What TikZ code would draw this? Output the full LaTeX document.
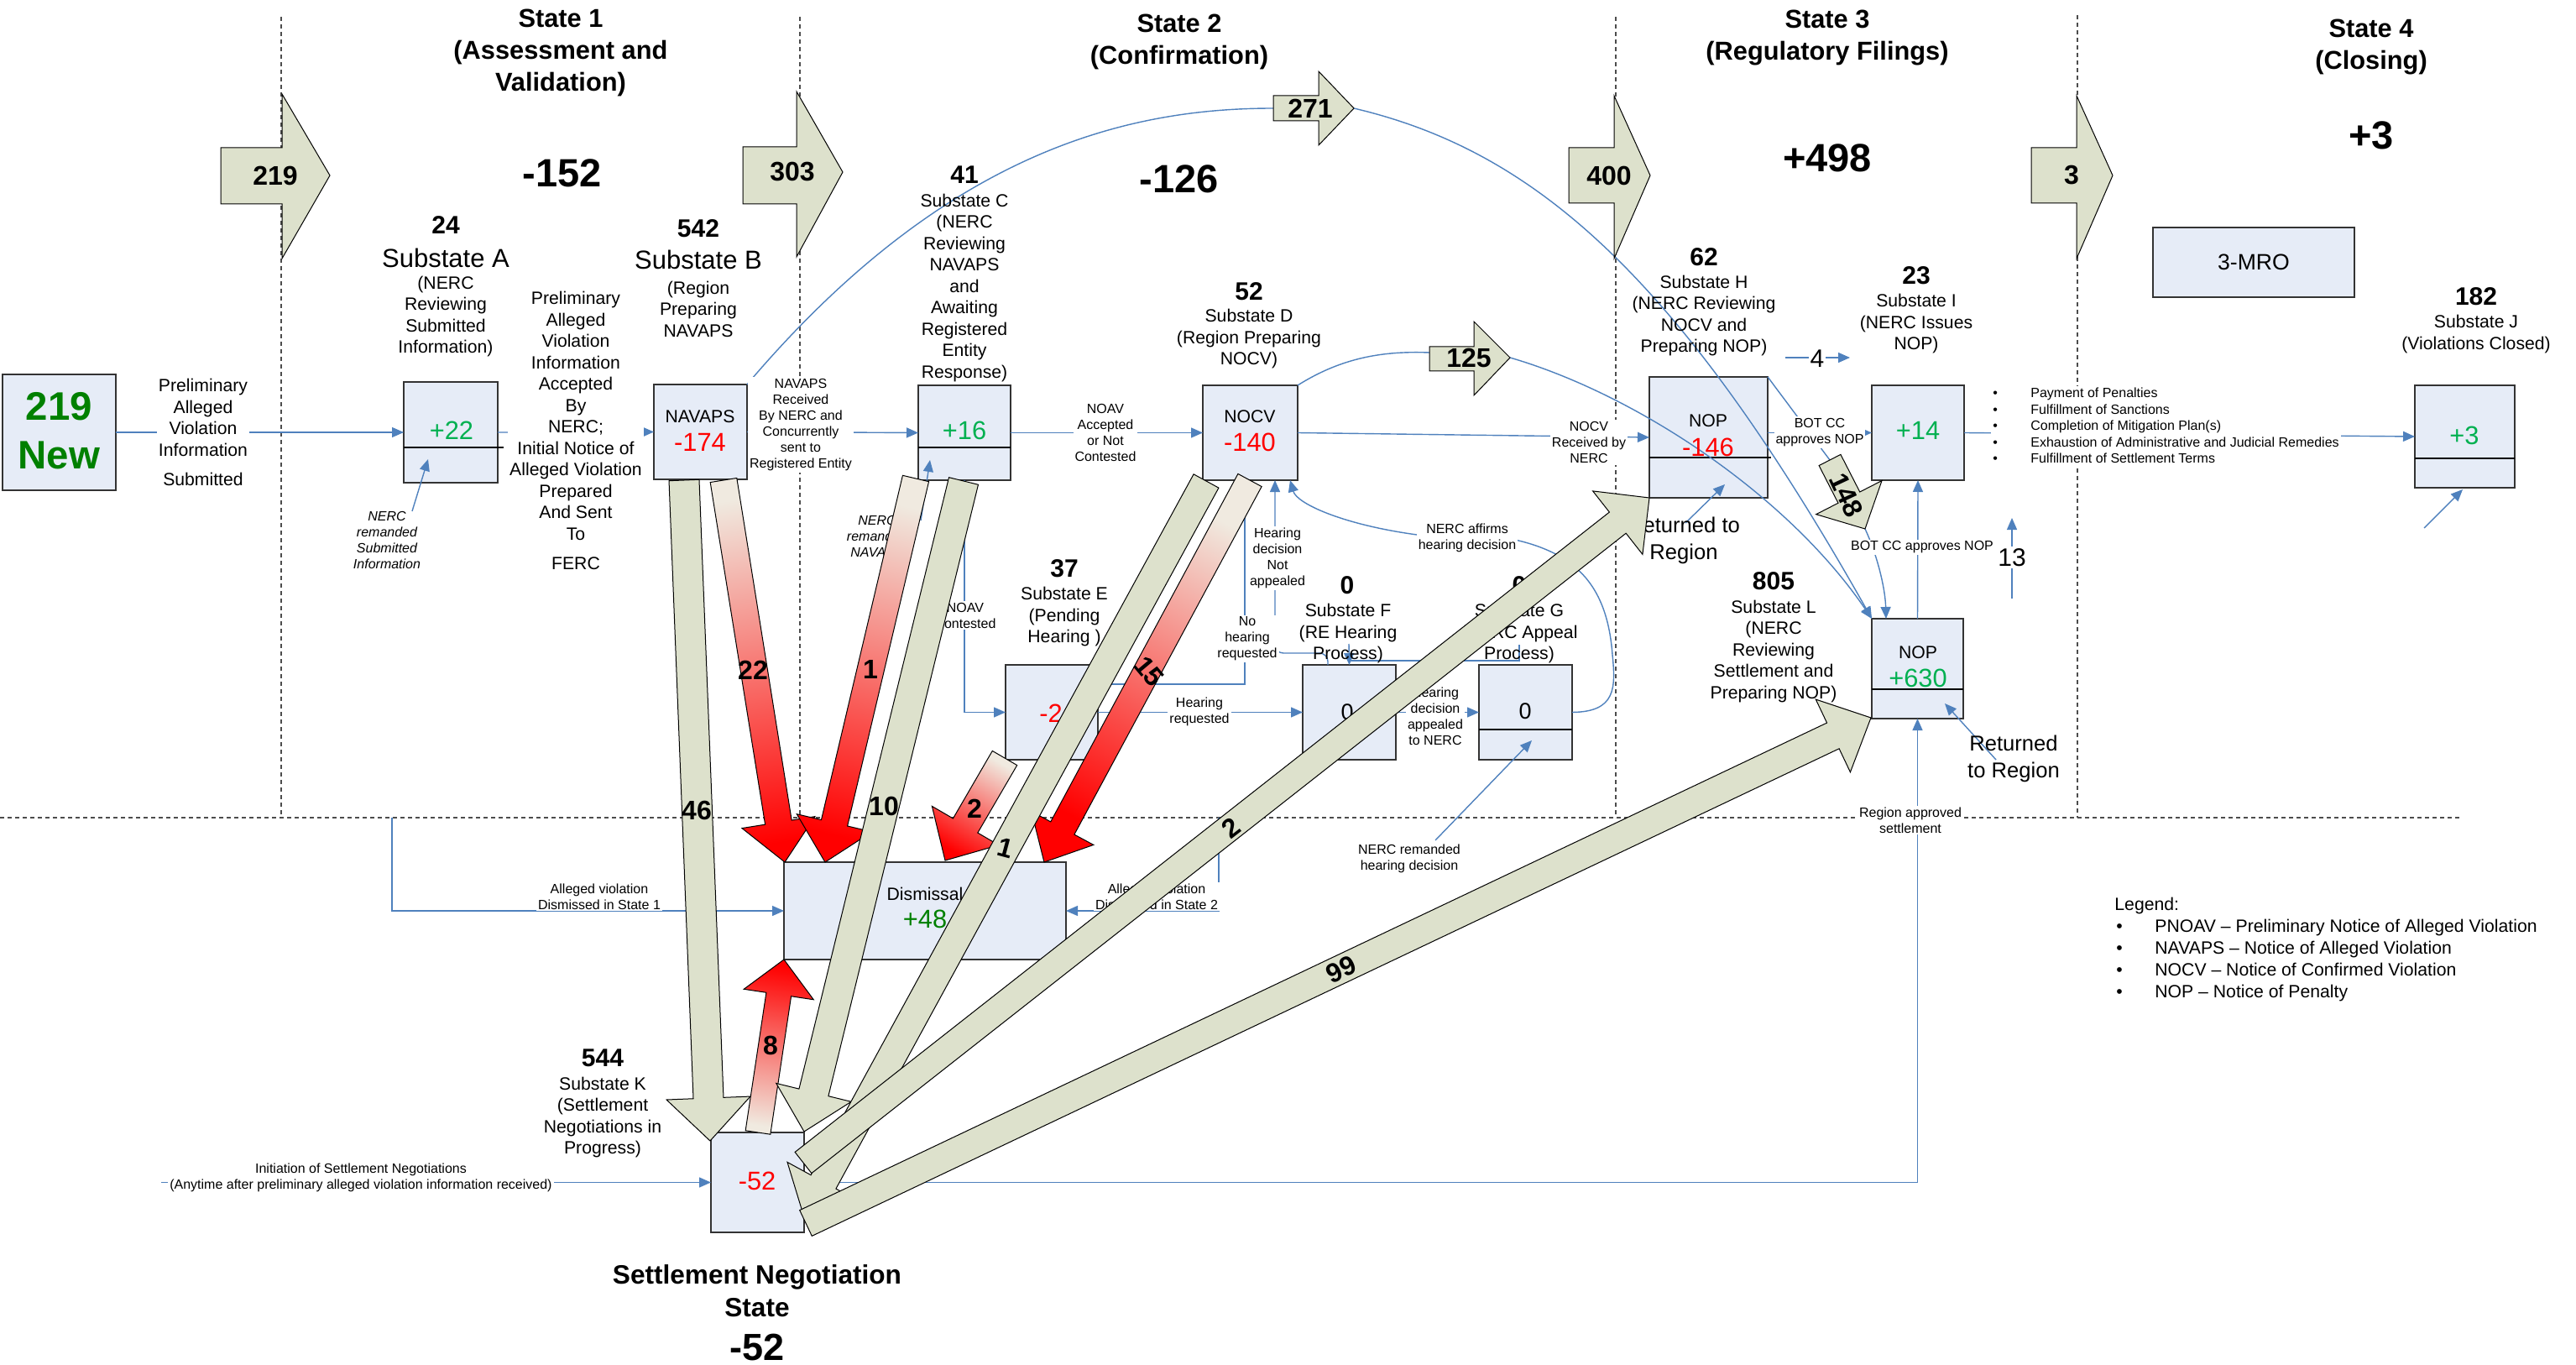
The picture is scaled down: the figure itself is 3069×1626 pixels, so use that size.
\documentclass[tikz,border=0pt]{standalone}
\usepackage{fontspec}
\setmainfont{Liberation Sans}
\usetikzlibrary{calc,arrows.meta}
\definecolor{boxblue}{RGB}{230,236,247}
\definecolor{lnblue}{RGB}{79,129,189}
\definecolor{khaki}{RGB}{221,225,204}
\definecolor{tailc}{RGB}{240,234,224}
\definecolor{dkgreen}{RGB}{0,128,0}
\definecolor{brgreen}{RGB}{0,176,80}
\definecolor{arred}{RGB}{255,0,0}
\newcommand{\blockarr}[6]{%
  \coordinate (bkH) at ($(#3)!#6!(#2)$);
  \path[#1] ($(#2)!#4!90:(#3)$) -- ($(bkH)!#4!-90:(#2)$) -- ($(bkH)!#5!-90:(#2)$) -- (#3) -- ($(bkH)!#5!90:(#2)$) -- ($(bkH)!#4!90:(#2)$) -- ($(#2)!#4!-90:(#3)$) -- cycle;}
\begin{document}
\begin{tikzpicture}[x=0.5pt,y=-0.5pt,
  box/.style={draw=black!80, fill=boxblue, line width=0.8pt, inner sep=0pt, outer sep=0pt},
  divider/.style={draw=black, line width=0.6pt},
  conn/.style={draw=lnblue, line width=0.7pt, -{Triangle[length=7pt,width=6pt]}},
  plain/.style={draw=lnblue, line width=0.7pt},
  dashln/.style={draw=black!70, line width=0.6pt, dash pattern=on 2.5pt off 2pt},
  ktxt/.style={font=\fontsize{16}{18}\selectfont\bfseries, inner sep=0pt},
  karr/.style={draw=black, line width=0.5pt, fill=khaki},
  rarr/.style={draw=black, line width=0.5pt, top color=tailc, bottom color=arred},
  lbl/.style={font=\fontsize{10.6}{12.75}\selectfont, align=center, inner sep=0pt},
  sm/.style={font=\fontsize{8}{9.5}\selectfont, align=center, inner sep=1pt, fill=white},
  smi/.style={font=\fontsize{8}{9.5}\selectfont\itshape, align=center, inner sep=1pt},
  num/.style={font=\fontsize{15}{17}\selectfont\bfseries, inner sep=0pt},
  bign/.style={font=\fontsize{23.5}{28}\selectfont\bfseries, inner sep=0pt},
  stt/.style={font=\fontsize{15.4}{19.2}\selectfont\bfseries, align=center, inner sep=0pt},
  bxn/.style={font=\fontsize{15.4}{18}\selectfont, inner sep=0pt},
  bxt/.style={font=\fontsize{10.6}{12.75}\selectfont, inner sep=0pt},
  subst/.style={font=\fontsize{15.5}{18}\selectfont, inner sep=0pt},
  ret/.style={font=\fontsize{12.8}{16}\selectfont, align=center, inner sep=0pt}
]
\fill[white] (0,0) rectangle (3069,1626);
\useasboundingbox (0,0) rectangle (3069,1626);

% ---------- dashed state separators ----------
\draw[dashln] (335,20) -- (335,974);
\draw[dashln] (953,20) -- (953,974);
\draw[dashln] (1925,20) -- (1925,974);
\draw[dashln] (2475,18) -- (2475,974);
\draw[dashln] (0,974) -- (2930,974);

% ---------- boxes ----------
\node[box, minimum width=67.5pt, minimum height=69pt] (nNew) at (70.5,515) {};
\node[box, minimum width=56pt, minimum height=60pt] (nA) at (537,515) {};
\node[box, minimum width=55.5pt, minimum height=56.5pt] (nB) at (834.5,514.5) {};
\node[box, minimum width=55pt, minimum height=56.5pt] (nC) at (1149,515.5) {};
\node[box, minimum width=56.5pt, minimum height=56.5pt] (nD) at (1489.5,515.5) {};
\node[box, minimum width=55pt, minimum height=56.5pt] (nE) at (1253,848.5) {};
\node[box, minimum width=55.5pt, minimum height=56.5pt] (nF) at (1607.5,848.5) {};
\node[box, minimum width=55.5pt, minimum height=56.5pt] (nG) at (1817.5,848.5) {};
\node[box, minimum width=70.5pt, minimum height=72pt] (nH) at (2035.5,521) {};
\node[box, minimum width=55pt, minimum height=56.5pt] (nI) at (2285,515.5) {};
\node[box, minimum width=120pt, minimum height=41.5pt] (nMRO) at (2685,312.5) {};
\node[box, minimum width=59.5pt, minimum height=61pt] (nJ) at (2936.5,520) {};
\node[box, minimum width=54.5pt, minimum height=59.5pt] (nL) at (2284.5,796.5) {};
\node[box, minimum width=168pt, minimum height=58pt] (nDis) at (1102,1085) {};
\node[box, minimum width=55.5pt, minimum height=59.5pt] (nK) at (902.5,1408.5) {};
\draw[divider] (481,533) -- (600,533);
\draw[divider] (1094,533) -- (1204,533);
\draw[divider] (1965,545) -- (2110,545);
\draw[divider] (2877,546) -- (2996,546);
\draw[divider] (2230,821) -- (2339,821);
\draw[divider] (1762,869) -- (1873,869);

% ---------- named points ----------
\coordinate (c271a) at (1517,129);
\coordinate (c271b) at (1613,129);
\coordinate (c125a) at (1703,420);
\coordinate (c125b) at (1799,426);
\coordinate (c148t) at (2180,548);
\coordinate (c148h) at (2222,630);
\coordinate (c4a) at (2127,426);
\coordinate (c4b) at (2204,426);
\coordinate (c13a) at (2397,713);
\coordinate (c13b) at (2397,617);
\coordinate (cJa) at (2888,629);
\coordinate (cJb) at (2934,583);
\coordinate (cRHa) at (2008,623);
\coordinate (cRHb) at (2055,577);
\coordinate (cRLa) at (2378,905);
\coordinate (cRLb) at (2317,838);
\coordinate (cIni) at (192,1408.5);
\coordinate (cAl1) at (467,974);
\coordinate (cAl2) at (1452,974);
\coordinate (cNRa) at (491,609);
\coordinate (cNRb) at (510,547);
\coordinate (cNNa) at (1097,620);
\coordinate (cNNb) at (1108,548);
\coordinate (cP2a) at (1810,768);
\coordinate (cP2b) at (1607,787);
\coordinate (cP2c) at (1607,767);
\coordinate (cNHa) at (1710,1001);
\coordinate (cNHb) at (1825,882);

% ---------- thin blue connectors ----------
\draw[conn] (nNew.east) -- (nA.west);
\draw[conn] (nA.east) -- (nB.west);
\draw[conn] (nB.east) -- (nC.west);
\draw[conn] (nC.east) -- (nD.west);
\draw[conn] (nD.east) -- (nH.west);
\draw[conn] (nH.east |- nI.west) -- (nI.west);
\draw[conn] (nI.east) -- (nJ.west);
\draw[conn] (c4a) -- (c4b);
\draw[plain] (nB.north east) .. controls (1130,175) and (1350,129) .. (c271a);
\draw[conn] (c271b) .. controls (1830,180) and (2000,330) .. (nL.north west);
\draw[plain] (nD.north east) .. controls (1600,425) and (1650,418) .. (c125a);
\draw[conn] (c125b) .. controls (1950,470) and (2130,590) .. (nL.north west);
\draw[plain] (nH.north east) -- (c148t);
\draw[conn] (c148h) .. controls (2236,660) and (2246,700) .. (nL.north west -| 2247,0);
\draw[conn] (nL.north) -- (nI.south);
\draw[conn] (c13a) -- (c13b);
\draw[conn] (cJa) -- (cJb);
\draw[conn] (cRHa) -- (cRHb);
\draw[conn] (cRLa) -- (cRLb);
\draw[conn] (nK.east) -| (nL.south);
\draw[conn] (cIni) -- (nK.west);
\draw[conn] (cAl1) |- (nDis.west);
\draw[conn] (cAl2) |- (nDis.east);
\draw[conn] (cNRa) -- (cNRb);
\draw[conn] (cNNa) -- (cNNb);
\draw[conn] (nC.south) |- (nE.west);
\draw[conn] (nE.east) -- (nF.west);
\draw[conn] (nE.east |- 0,815) -| (nD.south -| 1483,0);
\draw[conn, rounded corners=5pt] (nF.north -| 1582,0) |- (1519,778) -- (nD.south -| 1519,0);
\draw[plain] (cP2a) |- (cP2b);
\draw[conn] (cP2c) -- (nF.north);
\draw[conn] (nF.east) -- (nG.west);
\draw[conn] (nG.east) .. controls (1925,848) and (1925,820) .. (1921,780) .. controls (1915,700) and (1880,660) .. (1805,643) -- (1688,637) .. controls (1600,625) and (1545,600) .. (nD.south -| 1537,0);
\draw[conn] (cNHa) -- (cNHb);

% ---------- top block arrows ----------
\draw[karr] (263,176) -- (336,176) -- (336,112) -- (393,209) -- (336,308) -- (336,243) -- (263,243) -- cycle;
\draw[karr] (885,175) -- (949,175) -- (949,109) -- (1004,205) -- (949,306) -- (949,243) -- (885,243) -- cycle;
\draw[karr] (1517,114) -- (1571,114) -- (1571,85) -- (1613,129) -- (1571,173) -- (1571,144) -- (1517,144) -- cycle;
\draw[karr] (1869,176) -- (1923,176) -- (1923,114) -- (1966,209) -- (1923,308) -- (1923,242) -- (1869,242) -- cycle;
\draw[karr] (2420,176) -- (2474,176) -- (2474,114) -- (2517,209) -- (2474,308) -- (2474,242) -- (2420,242) -- cycle;
\draw[karr] (1703,413) -- (1756,413) -- (1756,383) -- (1799,426) -- (1756,471) -- (1756,442) -- (1703,442) -- cycle;
\node[ktxt] (k219) at (328,209) {219};
\node[ktxt] (k303) at (944,205) {303};
\node[ktxt] (k271) at (1561,129) {271};
\node[ktxt] (k400) at (1917,209) {400};
\node[ktxt] (k3) at (2468,209) {3};
\node[ktxt] (k125) at (1750,426) {125};

% ---------- box contents ----------
\node[font=\fontsize{23.7}{29}\selectfont\bfseries, text=dkgreen, align=center, inner sep=0pt] (tNew) at (70.5,513) {219\\New};
\node[bxn, text=brgreen] (tA) at (538,513) {+22};
\node[bxt] (tB1) at (834,496) {NAVAPS};
\node[bxn, text=red] (tB2) at (834,527) {-174};
\node[bxn, text=brgreen] (tC) at (1149,513) {+16};
\node[bxt] (tD1) at (1489,496) {NOCV};
\node[bxn, text=red] (tD2) at (1489,527) {-140};
\node[bxn, text=red] (tE) at (1252,850) {-2};
\node[bxn, font=\fontsize{13.5}{16}\selectfont] (tF) at (1605,848) {0};
\node[bxn, font=\fontsize{13.5}{16}\selectfont] (tG) at (1817,847) {0};
\node[bxt] (tH1) at (2035,501) {NOP};
\node[bxn, text=red] (tH2) at (2035,533) {-146};
\node[bxn, text=brgreen] (tI) at (2285,513) {+14};
\node[bxn, font=\fontsize{13.3}{16}\selectfont] (tMRO) at (2685,312) {3-MRO};
\node[bxn, text=brgreen] (tJ) at (2936,519) {+3};
\node[bxt] (tL1) at (2285,777) {NOP};
\node[bxn, text=brgreen] (tL2) at (2285,808) {+630};
\node[bxt] (tDis1) at (1102,1065) {Dismissal};
\node[bxn, text=dkgreen] (tDis2) at (1102,1095) {+48};
\node[bxn, text=red] (tK) at (902,1407) {-52};

% ---------- titles ----------
\node[stt] (st1) at (668,63) {State 1\\(Assessment and\\Validation)};
\node[stt] (st2) at (1405,50) {State 2\\(Confirmation)};
\node[stt] (st3) at (2177,45) {State 3\\(Regulatory Filings)};
\node[stt] (st4) at (2825,56) {State 4\\(Closing)};
\node[bign] (cnt1) at (670,206) {-152};
\node[bign] (cnt2) at (1405,213) {-126};
\node[bign] (cnt3) at (2177,188) {+498};
\node[bign] (cnt4) at (2825,161) {+3};

% ---------- substate labels ----------
\node[num] (n24) at (531,268) {24};
\node[subst] (sa) at (531,307) {Substate A};
\node[lbl] (sad) at (531,377) {(NERC\\Reviewing\\Submitted\\Information)};
\node[num] (n542) at (832,272) {542};
\node[subst] (sb) at (832,309) {Substate B};
\node[lbl] (sbd) at (832,368) {(Region\\Preparing\\NAVAPS};
\node[num] (n41) at (1149,208) {41};
\node[lbl] (sc) at (1149,343) {Substate C\\(NERC\\Reviewing\\NAVAPS\\and\\Awaiting\\Registered\\Entity\\Response)};
\node[num] (n52) at (1488,347) {52};
\node[lbl] (sd) at (1488,404) {Substate D\\(Region Preparing\\NOCV)};
\node[num] (n37) at (1268,677) {37};
\node[lbl] (se) at (1268,735) {Substate E\\(Pending\\Hearing )};
\node[num] (n0f) at (1605,697) {0};
\node[lbl] (sf) at (1606,755) {Substate F\\(RE Hearing\\Process)};
\node[num] (n0g) at (1810,697) {0};
\node[lbl] (sg) at (1810,755) {Substate G\\(NERC Appeal\\Process)};
\node[num] (n62) at (2030,306) {62};
\node[lbl] (sh) at (2030,376) {Substate H\\(NERC Reviewing\\NOCV and\\Preparing NOP)};
\node[num] (n23) at (2283,328) {23};
\node[lbl] (si) at (2283,386) {Substate I\\(NERC Issues\\NOP)};
\node[num] (n182) at (2950,353) {182};
\node[lbl] (sj) at (2950,398) {Substate J\\(Violations Closed)};
\node[num] (n805) at (2113,692) {805};
\node[lbl] (sl) at (2113,776) {Substate L\\(NERC\\Reviewing\\Settlement and\\Preparing NOP)};
\node[num] (n544) at (718,1260) {544};
\node[lbl] (sk) at (718,1331) {Substate K\\(Settlement\\Negotiations in\\Progress)};
\node[stt, font=\fontsize{15.8}{19.5}\selectfont\bfseries] (sns) at (902,1538) {Settlement Negotiation\\State};
\node[font=\fontsize{22.5}{26}\selectfont\bfseries, inner sep=0pt] (sns2) at (902,1605) {-52};

% ---------- connector texts ----------
\node[lbl, fill=white, inner sep=1pt] (tpre) at (242,515) {Preliminary\\Alleged\\Violation\\Information\\[4.75pt]Submitted};
\node[lbl, fill=white, inner sep=1pt] (tacc) at (686,513) {Preliminary\\Alleged\\Violation\\Information\\Accepted\\By\\NERC;\\Initial Notice of\\Alleged Violation\\Prepared\\And Sent\\To\\[4.75pt]FERC};
\node[smi] (tnrs) at (461,643) {NERC\\remanded\\Submitted\\Information};
\node[sm] (tnav) at (954,506) {NAVAPS\\Received\\By NERC and\\Concurrently\\sent to\\Registered Entity};
\node[sm] (tnoav) at (1317,515) {NOAV\\Accepted\\or Not\\Contested};
\node[smi] (tnrn) at (1045,639) {NERC\\remanded\\NAVAPS};
\node[sm] (tnc) at (1150,733) {NOAV\\Contested};
\node[sm] (thr) at (1429,848) {Hearing\\requested};
\node[sm] (tnhr) at (1486,761) {No\\hearing\\requested};
\node[sm] (thdna) at (1522,665) {Hearing\\decision\\Not\\appealed};
\node[sm] (taff) at (1748,641) {NERC affirms\\hearing decision};
\node[sm] (thda) at (1710,853) {Hearing\\decision\\appealed\\to NERC};
\node[sm] (tnrh) at (1679,1023) {NERC remanded\\hearing decision};
\node[sm] (tnocv) at (1893,527) {NOCV\\Received by\\NERC};
\node[sm] (tbot1) at (2168,515) {BOT CC\\approves NOP};
\node[sm] (tbot2) at (2290,652) {BOT CC approves NOP};
\node[sm] (treg) at (2276,977) {Region approved\\settlement};
\node[sm] (tal1) at (714,1068) {Alleged violation\\Dismissed in State 1};
\node[sm] (tal2) at (1378,1068) {Alleged violation\\Dismissed in State 2};
\node[sm] (tini) at (430,1403) {Initiation of Settlement Negotiations\\(Anytime after preliminary alleged violation information received)};
\node[sm, font=\fontsize{8}{9.75}\selectfont, align=left, anchor=west] (tbul) at (2372,507) {\makebox[22.5pt][l]{\textbullet}Payment of Penalties\\\makebox[22.5pt][l]{\textbullet}Fulfillment of Sanctions\\\makebox[22.5pt][l]{\textbullet}Completion of Mitigation Plan(s)\\\makebox[22.5pt][l]{\textbullet}Exhaustion of Administrative and Judicial Remedies\\\makebox[22.5pt][l]{\textbullet}Fulfillment of Settlement Terms};
\node[font=\fontsize{15}{17}\selectfont, fill=white, inner sep=1pt] (t4) at (2165,427) {4};
\node[font=\fontsize{15}{17}\selectfont, fill=white, inner sep=1pt] (t13) at (2397,664) {13};
\node[ret] (trh) at (2006,644) {Returned to\\Region};
\node[ret] (trl) at (2399,904) {Returned\\to Region};
\node[font=\fontsize{10.6}{12.9}\selectfont, align=left, anchor=west, inner sep=0pt] (legend) at (2519,1131) {Legend:\\\hspace*{1pt}\makebox[23pt][l]{\textbullet}PNOAV – Preliminary Notice of Alleged Violation\\\hspace*{1pt}\makebox[23pt][l]{\textbullet}NAVAPS – Notice of Alleged Violation\\\hspace*{1pt}\makebox[23pt][l]{\textbullet}NOCV – Notice of Confirmed Violation\\\hspace*{1pt}\makebox[23pt][l]{\textbullet}NOP – Notice of Penalty};

% ---------- flow arrows ----------
\coordinate (r22t) at (862,572);  \coordinate (r22h) at (935,1027);
\coordinate (r1t) at (1091,570);  \coordinate (r1h) at (983,1027);
\coordinate (r2t) at (1197,903);  \coordinate (r2h) at (1126,1025);
\coordinate (r15t) at (1489,572); \coordinate (r15h) at (1244,1027);
\coordinate (r8t) at (903,1349);  \coordinate (r8h) at (934,1143);
\coordinate (g46t) at (815,572);  \coordinate (g46h) at (846,1359);
\coordinate (g10t) at (1148,573); \coordinate (g10h) at (958,1348);
\coordinate (g1t) at (1437,573);  \coordinate (g1h) at (958,1450);
\coordinate (g2t) at (957,1385);  \coordinate (g2h) at (1965,593);
\coordinate (g99t) at (960,1457); \coordinate (g99h) at (2229,855);

\blockarr{rarr, shading angle=9.1}{r22t}{r22h}{8pt}{22pt}{24pt}
\blockarr{rarr, shading angle=-13.3}{r1t}{r1h}{8pt}{23pt}{24pt}
\blockarr{rarr, shading angle=-30.2}{r2t}{r2h}{8.5pt}{23pt}{24pt}
\blockarr{rarr, shading angle=-28.3}{r15t}{r15h}{8pt}{21pt}{23pt}
\blockarr{rarr, shading angle=171.4}{r8t}{r8h}{7.5pt}{21pt}{21pt}

\blockarr{karr}{g46t}{g46h}{9pt}{25pt}{25.5pt}
\blockarr{karr}{g10t}{g10h}{9pt}{23pt}{24pt}
\blockarr{karr}{g1t}{g1h}{8.5pt}{24.5pt}{24pt}
\blockarr{karr}{g99t}{g99h}{8.5pt}{24pt}{25pt}
\blockarr{karr}{g2t}{g2h}{8pt}{24pt}{24pt}
\blockarr{karr}{c148t}{c148h}{7.25pt}{22pt}{21pt}

% ---------- arrow labels ----------
\node[ktxt] (l46) at (830,965) {46};
\node[ktxt] (l22) at (897,798) {22};
\node[ktxt] (l1r) at (1037,797) {1};
\node[ktxt] (l10) at (1053,960) {10};
\node[ktxt] (l2r) at (1161,963) {2};
\node[ktxt, rotate=-15] (l1g) at (1198,1010) {1};
\node[ktxt, rotate=-50] (l15) at (1369,800) {15};
\node[ktxt, rotate=38] (l2g) at (1467,986) {2};
\node[ktxt, rotate=25] (l99) at (1598,1155) {99};
\node[ktxt] (l8) at (918,1245) {8};
\node[ktxt, rotate=-65] (l148) at (2200,590) {148};
\end{tikzpicture}
\end{document}
